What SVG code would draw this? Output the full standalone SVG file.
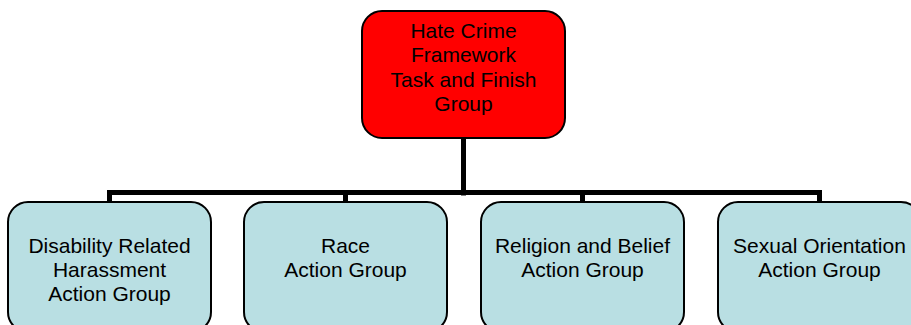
<svg xmlns="http://www.w3.org/2000/svg" width="911" height="325" viewBox="0 0 911 325">
<style>
.box{stroke:#000;stroke-width:2}
.top{fill:#FF0000}
.sub{fill:#B9DFE3}
.conn{stroke:#000;stroke-width:5;fill:none;stroke-linecap:butt}
text{font-family:"Liberation Sans",Arial,sans-serif;font-size:21px;fill:#000;text-anchor:middle}
</style>
<rect width="911" height="325" fill="#fff"/>
<g id="connectors">
<path class="conn" d="M463.5 138 V195.5"/>
<path class="conn" d="M107 192.5 H822"/>
<path class="conn" d="M109.5 190 V202"/>
<path class="conn" d="M345.5 190 V202"/>
<path class="conn" d="M582.5 190 V202"/>
<path class="conn" d="M819.5 190 V202"/>
</g>
<g id="n0">
<rect class="box top" x="362" y="11" width="203" height="127" rx="20"/>
<text x="463.5" y="38">Hate Crime</text>
<text x="463.5" y="62">Framework</text>
<text x="463.5" y="86.5">Task and Finish</text>
<text x="463.5" y="111">Group</text>
</g>
<g id="n1">
<rect class="box sub" x="8" y="202" width="203" height="130" rx="20"/>
<text x="109.5" y="253">Disability Related</text>
<text x="109.5" y="277">Harassment</text>
<text x="109.5" y="301">Action Group</text>
</g>
<g id="n2">
<rect class="box sub" x="244" y="202" width="203" height="130" rx="20"/>
<text x="345.5" y="253">Race</text>
<text x="345.5" y="277">Action Group</text>
</g>
<g id="n3">
<rect class="box sub" x="481" y="202" width="203" height="130" rx="20"/>
<text x="582.5" y="253">Religion and Belief</text>
<text x="582.5" y="277">Action Group</text>
</g>
<g id="n4">
<rect class="box sub" x="718" y="202" width="203" height="130" rx="20"/>
<text x="819.5" y="253">Sexual Orientation</text>
<text x="819.5" y="277">Action Group</text>
</g>
</svg>
